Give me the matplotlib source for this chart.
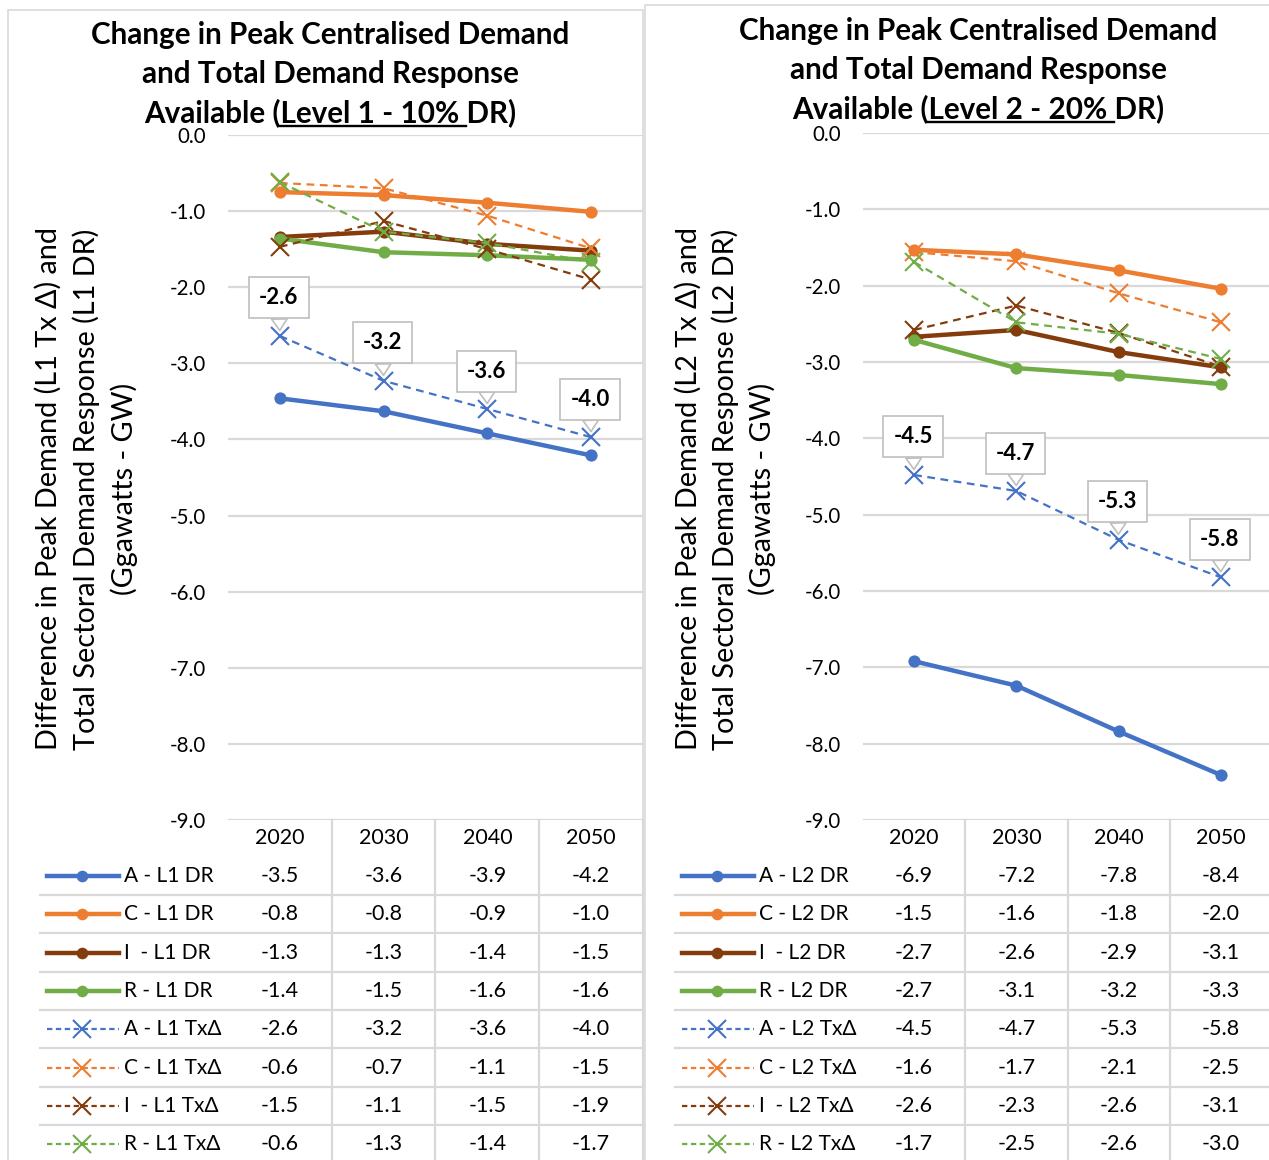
import numpy as np
import matplotlib
matplotlib.use("Agg")
import matplotlib.pyplot as plt
from matplotlib.lines import Line2D
from matplotlib.patches import Rectangle
from matplotlib.transforms import blended_transform_factory

plt.rcParams['font.family'] = ['Lato', 'DejaVu Sans']

W, H = 1269, 1160

years = ["2020", "2030", "2040", "2050"]

# Level 1 (10% DR)
l1_names = ["A - L1 DR", "C - L1 DR", "I  - L1 DR", "R - L1 DR",
            "A - L1 TxΔ", "C - L1 TxΔ", "I  - L1 TxΔ", "R - L1 TxΔ"]
a_dr_l1 = [-3.46, -3.63, -3.92, -4.21]
c_dr_l1 = [-0.75, -0.79, -0.89, -1.01]
i_dr_l1 = [-1.34, -1.27, -1.43, -1.52]
r_dr_l1 = [-1.36, -1.54, -1.58, -1.64]
a_tx_l1 = [-2.64, -3.23, -3.60, -3.97]
c_tx_l1 = [-0.63, -0.70, -1.06, -1.49]
i_tx_l1 = [-1.47, -1.13, -1.50, -1.90]
r_tx_l1 = [-0.62, -1.27, -1.42, -1.67]

# Level 2 (20% DR)
l2_names = ["A - L2 DR", "C - L2 DR", "I  - L2 DR", "R - L2 DR",
            "A - L2 TxΔ", "C - L2 TxΔ", "I  - L2 TxΔ", "R - L2 TxΔ"]
a_dr_l2 = [-6.92, -7.24, -7.84, -8.41]
c_dr_l2 = [-1.53, -1.59, -1.80, -2.04]
i_dr_l2 = [-2.67, -2.58, -2.87, -3.07]
r_dr_l2 = [-2.71, -3.08, -3.17, -3.29]
a_tx_l2 = [-4.48, -4.69, -5.33, -5.82]
c_tx_l2 = [-1.56, -1.68, -2.10, -2.48]
i_tx_l2 = [-2.58, -2.26, -2.62, -3.06]
r_tx_l2 = [-1.69, -2.48, -2.63, -2.96]

colors = ["#4472C4", "#ED7D31", "#843C0C", "#70AD47"]
grid_c = "#D9D9D9"


def fx(px):
    return px / W


def fy(py):
    return 1 - py / H


fig = plt.figure(figsize=(W / 100, H / 100), dpi=100)
fig.patch.set_facecolor("white")

# chart borders
fig.add_artist(Rectangle((fx(8), fy(1200)), fx(643) - fx(8), fy(10) - fy(1200),
                         transform=fig.transFigure, fill=False, ec=grid_c, lw=1.2))
fig.add_artist(Rectangle((fx(645), fy(1200)), fx(1300) - fx(645), fy(5) - fy(1200),
                         transform=fig.transFigure, fill=False, ec=grid_c, lw=1.2))


def style(i):
    if i < 4:
        return dict(color=colors[i], lw=3.2, ls="-", marker="o", ms=8.8, mew=0)
    return dict(color=colors[i - 4], lw=1.6, ls=(0, (3.5, 2.5)), marker="x", ms=13, mew=1.5)


def panel(ax_rect, series, names, title, underline, ylab, title_y, title_cx, ylab_x):
    left_px, top_px, right_px = ax_rect
    ax = fig.add_axes([fx(left_px), fy(820), fx(right_px) - fx(left_px), fy(top_px) - fy(820)])
    ax.set_xlim(-0.5, 3.5)
    ax.set_ylim(-9, 0)
    ax.set_yticks(np.arange(-9, 0.5, 1))
    ax.set_yticklabels([f"{v:.1f}" for v in np.arange(-9, 0.5, 1)], fontsize=14.8)
    ax.set_xticks([])
    ax.tick_params(axis="y", length=0, pad=16)
    for s in ax.spines.values():
        s.set_visible(False)
    ax.grid(axis="y", color=grid_c, lw=1.6)
    ax.set_axisbelow(True)
    ax.patch.set_alpha(0)

    x = np.arange(len(years))
    for i, vals in enumerate(series):
        ax.plot(x, vals, clip_on=False, zorder=3 + i, **style(i))

    # data labels for A - TxΔ
    for xi, v in zip(x, series[4]):
        ax.annotate(f"{v:.1f}", xy=(xi, v), xytext=(-1, 38), textcoords="offset pixels",
                    ha="center", va="center", fontsize=16, fontweight="bold", zorder=20,
                    bbox=dict(boxstyle="square,pad=0.45", fc="white", ec="#BFBFBF", lw=1.2),
                    arrowprops=dict(arrowstyle="wedge,tail_width=0.7", fc="white",
                                    ec="#BFBFBF", lw=1.2, shrinkA=0, shrinkB=4))

    # title
    for k, line in enumerate(title):
        t = fig.text(fx(title_cx), fy(title_y[k]), line, ha="center", va="center",
                     fontsize=21.3, fontweight="bold")
    fig.canvas.draw()
    r = fig.canvas.get_renderer()
    bb = t.get_window_extent(r)
    pre, mid = underline
    tmp = fig.text(0, 0, pre, fontsize=21.3, fontweight="bold")
    w_pre = tmp.get_window_extent(r).width
    tmp.set_text(pre + mid)
    w_mid = tmp.get_window_extent(r).width
    tmp.remove()
    uy = bb.y0 + 1
    fig.add_artist(Line2D([(bb.x0 + w_pre) / W, (bb.x0 + w_mid) / W], [uy / H, uy / H],
                          transform=fig.transFigure, color="black", lw=1.7))

    # y label
    for k, line in enumerate(ylab):
        fig.text(fx(ylab_x[k]), fy(489), line, rotation=90, ha="center", va="center",
                 fontsize=20.8)

    # data table
    tr = blended_transform_factory(ax.transData, fig.transFigure)
    for xi, yr in enumerate(years):
        fig.text(xi, fy(838), yr, transform=tr, ha="center", va="center", fontsize=15.5)
    row_h = 38.3
    for k, (name, vals) in enumerate(zip(names, series)):
        yc = 876 + row_h * k
        for xi, v in enumerate(vals):
            fig.text(xi, fy(yc), f"{v:.1f}", transform=tr, ha="center", va="center",
                     fontsize=15.5)
        st = style(k)
        ms = st.pop("ms")
        if k >= 4:
            st["ls"] = (0, (2.4, 1.6))
        fig.add_artist(Line2D([fx(left_px - 181), fx(left_px - 109)], [fy(yc), fy(yc)],
                              transform=fig.transFigure, **{**st, "marker": None}))
        fig.add_artist(Line2D([fx(left_px - 146)], [fy(yc)], transform=fig.transFigure,
                              color=st["color"], marker=st["marker"], ms=ms * 0.95,
                              mew=st["mew"], ls="none"))
        fig.text(fx(left_px - 104), fy(yc), name, ha="left", va="center", fontsize=15)
        yl = yc + row_h / 2
        fig.add_artist(Line2D([fx(left_px - 188), fx(right_px)], [fy(yl), fy(yl)],
                              transform=fig.transFigure, color=grid_c, lw=1.6))
    for b in [0.5, 1.5, 2.5, 3.5]:
        fig.add_artist(Line2D([b, b], [fy(820), fy(1200)], transform=tr, color=grid_c, lw=1.6))
    return ax


panel((228, 135, 643),
      [a_dr_l1, c_dr_l1, i_dr_l1, r_dr_l1, a_tx_l1, c_tx_l1, i_tx_l1, r_tx_l1],
      l1_names,
      ["Change in Peak Centralised Demand", "and Total Demand Response",
       "Available (Level 1 - 10% DR)"],
      ("Available (", "Level 1 - 10% "),
      ["Difference in Peak Demand (L1 Tx Δ) and", "Total Sectoral Demand Response (L1 DR)",
       "(Ggawatts - GW)"],
      [35, 74, 113], 330, [48, 86, 124])

panel((863, 133, 1272),
      [a_dr_l2, c_dr_l2, i_dr_l2, r_dr_l2, a_tx_l2, c_tx_l2, i_tx_l2, r_tx_l2],
      l2_names,
      ["Change in Peak Centralised Demand", "and Total Demand Response",
       "Available (Level 2 - 20% DR)"],
      ("Available (", "Level 2 - 20% "),
      ["Difference in Peak Demand (L2 Tx Δ) and", "Total Sectoral Demand Response (L2 DR)",
       "(Ggawatts - GW)"],
      [31, 70, 109], 978, [688, 725, 762])

fig.savefig("out.png", dpi=100)
